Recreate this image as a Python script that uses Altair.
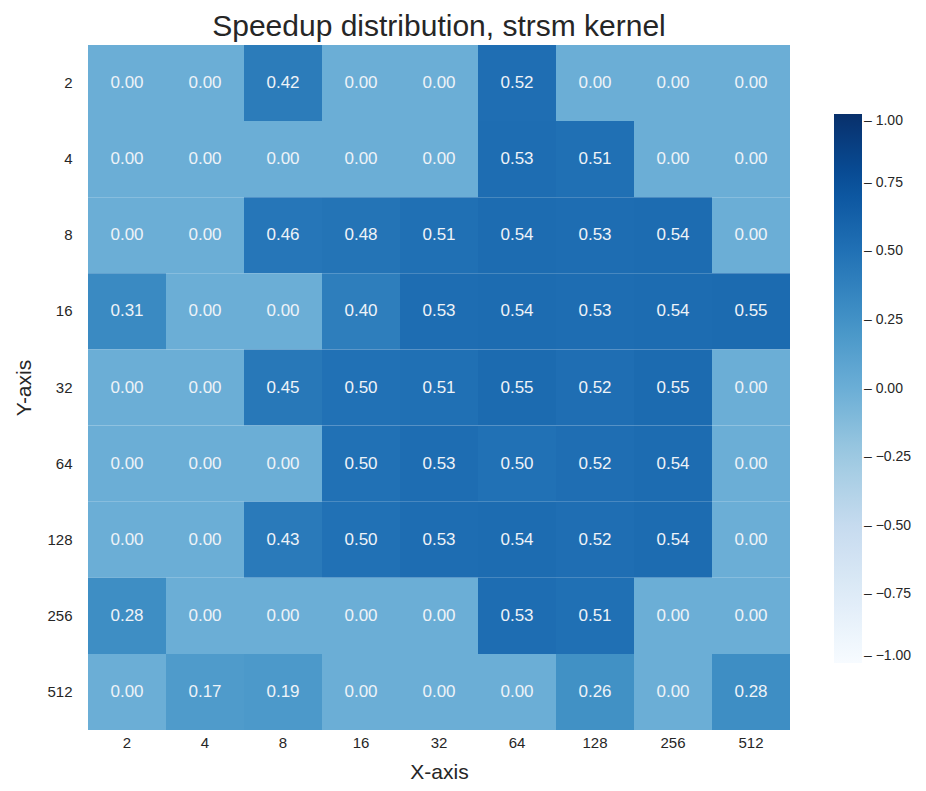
import altair as alt
import pandas as pd

sizes = ["2", "4", "8", "16", "32", "64", "128", "256", "512"]

row_2 = [0.00, 0.00, 0.42, 0.00, 0.00, 0.52, 0.00, 0.00, 0.00]
row_4 = [0.00, 0.00, 0.00, 0.00, 0.00, 0.53, 0.51, 0.00, 0.00]
row_8 = [0.00, 0.00, 0.46, 0.48, 0.51, 0.54, 0.53, 0.54, 0.00]
row_16 = [0.31, 0.00, 0.00, 0.40, 0.53, 0.54, 0.53, 0.54, 0.55]
row_32 = [0.00, 0.00, 0.45, 0.50, 0.51, 0.55, 0.52, 0.55, 0.00]
row_64 = [0.00, 0.00, 0.00, 0.50, 0.53, 0.50, 0.52, 0.54, 0.00]
row_128 = [0.00, 0.00, 0.43, 0.50, 0.53, 0.54, 0.52, 0.54, 0.00]
row_256 = [0.28, 0.00, 0.00, 0.00, 0.00, 0.53, 0.51, 0.00, 0.00]
row_512 = [0.00, 0.17, 0.19, 0.00, 0.00, 0.00, 0.26, 0.00, 0.28]

rows = [row_2, row_4, row_8, row_16, row_32, row_64, row_128, row_256, row_512]

# matplotlib "Blues" colormap stops over the range -1 .. 1
blues_stops = [-1, -0.75, -0.5, -0.25, 0, 0.25, 0.5, 0.75, 1]
blues_colors = ["#f7fbff", "#deebf7", "#c6dbef", "#9ecae1", "#6baed6",
                "#4292c6", "#2171b5", "#08519c", "#08306b"]

records = []
for ylab, vals in zip(sizes, rows):
    for xlab, v in zip(sizes, vals):
        records.append({"x": xlab, "y": ylab, "v": v})
df = pd.DataFrame(records)

FONT = "Liberation Sans"
TXT = "#262626"

base = alt.Chart(df).encode(
    x=alt.X("x:O", sort=sizes, title="X-axis",
            axis=alt.Axis(labelAngle=0, ticks=False, domain=False, labelPadding=5,
                          labelFontSize=15, labelColor=TXT, labelFont=FONT,
                          titleFontSize=21, titleColor=TXT, titleFont=FONT,
                          titleFontWeight="normal", titlePadding=11)),
    y=alt.Y("y:O", sort=sizes, title="Y-axis",
            axis=alt.Axis(ticks=False, domain=False, labelPadding=16,
                          labelFontSize=15, labelColor=TXT, labelFont=FONT,
                          titleFontSize=21, titleColor=TXT, titleFont=FONT,
                          titleFontWeight="normal", titlePadding=12)),
)

rect = base.mark_rect().encode(
    color=alt.Color("v:Q",
                    scale=alt.Scale(domain=blues_stops, range=blues_colors,
                                    interpolate="rgb"),
                    legend=alt.Legend(
                        title=None, orient="none", legendX=746, legendY=69,
                        gradientLength=549, gradientThickness=28,
                        values=blues_stops,
                        labelExpr="'– ' + replace(format(datum.value, '.2f'), '-', '−')",
                        labelFontSize=14, labelColor=TXT, labelFont=FONT,
                        labelOffset=2, gradientStrokeWidth=0, labelOverlap=False,
                        direction="vertical")),
)

text = base.mark_text(fontSize=17, font=FONT, color="#eef3f8").encode(
    text=alt.Text("v:Q", format=".2f")
)

chart = (rect + text).properties(
    width=702, height=685,
    title=alt.TitleParams("Speedup distribution, strsm kernel", fontSize=30,
                          font=FONT, fontWeight="normal", color=TXT, offset=3),
    autosize=alt.AutoSizeParams(type="none"),
    padding={"left": 80, "top": 37, "right": 128, "bottom": 53},
).configure_view(stroke=None)

chart.save("out.html", embed_options={"renderer": "svg", "actions": False})
